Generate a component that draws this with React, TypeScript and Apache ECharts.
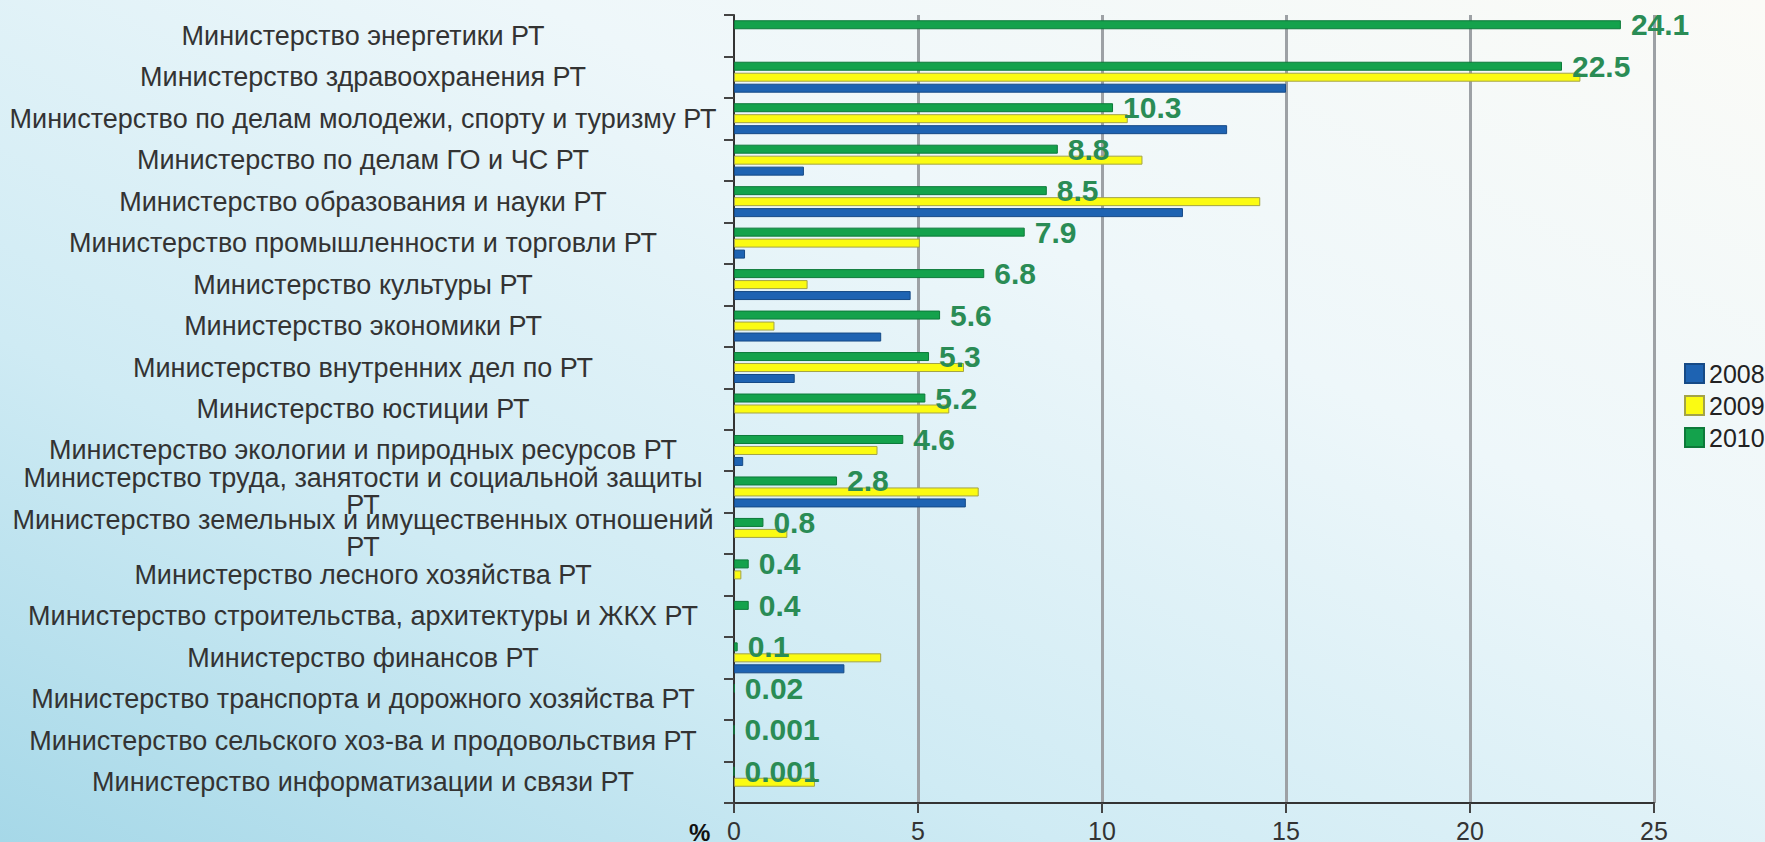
import React, { useEffect, useRef } from 'react';
import * as echarts from 'echarts';

const categories = [
  'Министерство энергетики РТ',
  'Министерство здравоохранения РТ',
  'Министерство по делам молодежи, спорту и туризму РТ',
  'Министерство по делам ГО и ЧС РТ',
  'Министерство образования и науки РТ',
  'Министерство промышленности и торговли РТ',
  'Министерство культуры РТ',
  'Министерство экономики РТ',
  'Министерство внутренних дел по РТ',
  'Министерство юстиции РТ',
  'Министерство экологии и природных ресурсов РТ',
  'Министерство труда, занятости и социальной защиты РТ',
  'Министерство земельных и имущественных отношений РТ',
  'Министерство лесного хозяйства РТ',
  'Министерство строительства, архитектуры и ЖКХ РТ',
  'Министерство финансов РТ',
  'Министерство транспорта и дорожного хозяйства РТ',
  'Министерство сельского хоз-ва и продовольствия РТ',
  'Министерство информатизации и связи РТ',
];

const seriesNames = ['2008', '2009', '2010'];

const values2008 = [null, 15.0, 13.4, 1.9, 12.2, 0.3, 4.8, 4.0, 1.65, null, 0.25, 6.3, null, null, null, 3.0, null, null, null];
const values2009 = [null, 23.0, 10.7, 11.1, 14.3, 5.05, 2.0, 1.1, 6.25, 5.85, 3.9, 6.65, 1.45, 0.2, null, 4.0, null, null, 2.2];
const values2010 = [24.1, 22.5, 10.3, 8.8, 8.5, 7.9, 6.8, 5.6, 5.3, 5.2, 4.6, 2.8, 0.8, 0.4, 0.4, 0.1, 0.02, 0.001, 0.001];

const xTicks = { min: 0, max: 25, interval: 5 };

const FONT = "'Liberation Sans', Arial, sans-serif";
const CAT_FONT_SIZE = 27;
const CAT_MAX_WIDTH = 710;

function wrapLabel(text: string, font: string, maxWidth: number): string {
  const canvas = document.createElement('canvas');
  const ctx = canvas.getContext('2d');
  if (!ctx) return text;
  ctx.font = font;
  const words = text.split(' ');
  const lines: string[] = [];
  let cur = '';
  for (const w of words) {
    const test = cur ? cur + ' ' + w : w;
    if (cur && ctx.measureText(test).width > maxWidth) {
      lines.push(cur);
      cur = w;
    } else {
      cur = test;
    }
  }
  if (cur) lines.push(cur);
  return lines.join('\n');
}

export default function App() {
  const ref = useRef<HTMLDivElement>(null);

  useEffect(() => {
    if (!ref.current) return;
    const chart = echarts.init(ref.current, null, { renderer: 'svg' });

    const barCommon = {
      type: 'bar',
      barWidth: 9,
      barGap: '22%',
    };

    const option: any = {
      animation: false,
      backgroundColor: {
        type: 'linear',
        x: 0,
        y: 1,
        x2: 1,
        y2: 0,
        colorStops: [
          { offset: 0, color: '#a6d8e8' },
          { offset: 0.3, color: '#cfebf4' },
          { offset: 0.65, color: '#eef7fa' },
          { offset: 1, color: '#fbfbf7' },
        ],
      },
      grid: {
        left: 734,
        right: 111,
        top: 15,
        bottom: 39,
        containLabel: false,
        outerBoundsMode: 'none',
      },
      legend: {
        orient: 'vertical',
        left: 1679,
        top: 356,
        itemWidth: 19,
        itemHeight: 19,
        itemGap: 7,
        icon: 'rect',
        data: seriesNames,
        textStyle: { fontSize: 25, color: '#222', fontFamily: FONT, lineHeight: 25 },
      },
      xAxis: {
        type: 'value',
        min: xTicks.min,
        max: xTicks.max,
        interval: xTicks.interval,
        axisLine: { show: true, lineStyle: { color: '#333', width: 2 } },
        axisTick: { show: true, length: 10, lineStyle: { color: '#444', width: 2 } },
        axisLabel: { fontSize: 25, color: '#333', margin: 15, fontFamily: FONT },
        splitLine: { show: true, showMinLine: false, lineStyle: { color: '#9da1a5', width: 3 } },
      },
      yAxis: {
        type: 'category',
        inverse: true,
        data: categories,
        axisLine: { show: true, lineStyle: { color: '#333', width: 2 } },
        axisTick: { show: true, length: 10, lineStyle: { color: '#444', width: 2 } },
        axisLabel: {
          fontSize: CAT_FONT_SIZE,
          color: '#333',
          fontFamily: FONT,
          align: 'center',
          margin: 371,
          lineHeight: 27,
          formatter: (v: string) =>
            wrapLabel(v, `${CAT_FONT_SIZE}px 'Liberation Sans'`, CAT_MAX_WIDTH),
        },
        splitLine: { show: false },
      },
      graphic: [
        {
          type: 'text',
          left: 689,
          top: 820,
          style: { text: '%', font: `bold 24px ${FONT}`, fill: '#111' },
        },
      ],
      series: [
        {
          ...barCommon,
          name: seriesNames[2],
          data: values2010,
          itemStyle: { color: '#14a24c', borderColor: '#0d7a3a', borderWidth: 1 },
          label: {
            show: true,
            position: 'right',
            distance: 10,
            fontSize: 30,
            fontWeight: 'bold',
            color: '#2a8c55',
            fontFamily: FONT,
          },
        },
        {
          ...barCommon,
          name: seriesNames[1],
          data: values2009,
          itemStyle: { color: '#fbfb12', borderColor: '#a3a347', borderWidth: 1 },
        },
        {
          ...barCommon,
          name: seriesNames[0],
          data: values2008,
          itemStyle: { color: '#1e63b2', borderColor: '#164a86', borderWidth: 1 },
        },
      ],
    };

    chart.setOption(option);
    return () => chart.dispose();
  }, []);

  return (
    <div
      ref={ref}
      style={{ position: 'fixed', left: 0, top: 0, width: 1765, height: 842 }}
    />
  );
}
